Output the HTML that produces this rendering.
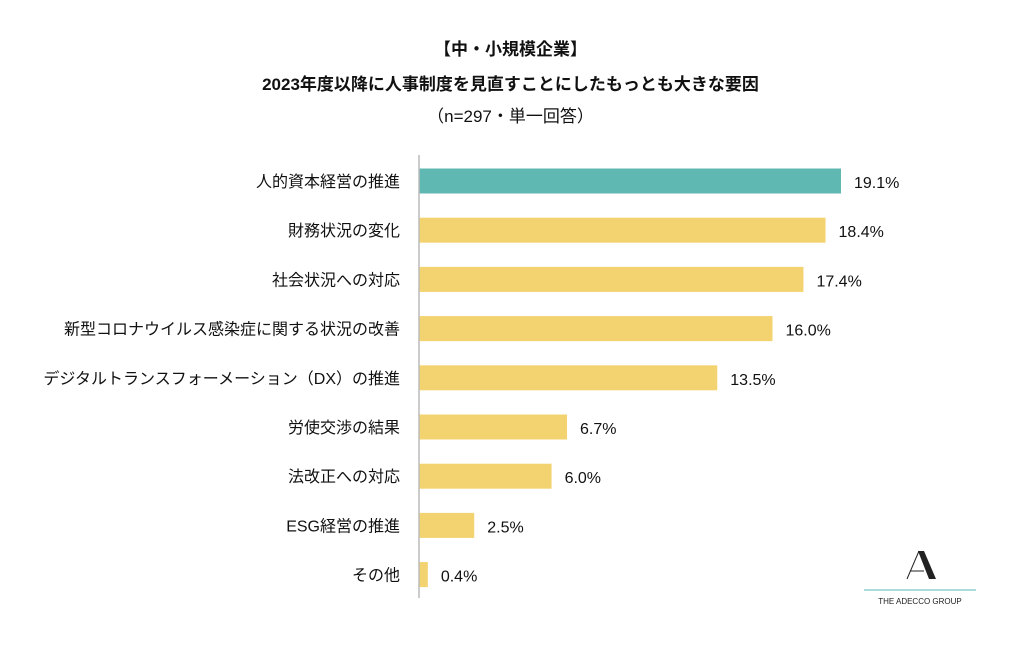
<!DOCTYPE html>
<html><head><meta charset="utf-8">
<style>
body{margin:0;background:#fff;font-family:"Liberation Sans","Noto Sans CJK JP",sans-serif;}
#wrap{position:relative;width:1021px;height:657px;overflow:hidden;}
.t{position:absolute;left:0;width:1021px;text-align:center;color:#111;}
</style></head><body>
<div id="wrap">
<div class="t" style="top:35px;font-size:17px;font-weight:bold">【中・小規模企業】</div>
<div class="t" style="top:70px;font-size:17px;font-weight:bold">2023年度以降に人事制度を見直すことにしたもっとも大きな要因</div>
<div class="t" style="top:102px;font-size:17px">（n=297・単一回答）</div>
<svg id="c" width="1021" height="657" style="position:absolute;left:0;top:0"></svg>
<svg width="140" height="70" style="position:absolute;left:850px;top:540px">
<line x1="69" y1="11" x2="57" y2="39" stroke="#222" stroke-width="1"/>
<polygon points="68,11 74,11 86,39 79,39" fill="#222"/>
<line x1="60" y1="31" x2="74" y2="31" stroke="#222" stroke-width="1"/>
<line x1="14" y1="50" x2="126" y2="50" stroke="#8fd0cf" stroke-width="1.5"/>
<text x="70" y="64" font-size="8" text-anchor="middle" fill="#222" font-family="Liberation Sans, sans-serif">THE ADECCO GROUP</text>
</svg>
</div>
<script>
const categories=["人的資本経営の推進","財務状況の変化","社会状況への対応","新型コロナウイルス感染症に関する状況の改善","デジタルトランスフォーメーション（DX）の推進","労使交渉の結果","法改正への対応","ESG経営の推進","その他"];
const values=[19.1,18.4,17.4,16.0,13.5,6.7,6.0,2.5,0.4];
const labels=["19.1%","18.4%","17.4%","16.0%","13.5%","6.7%","6.0%","2.5%","0.4%"];
const svg=document.getElementById('c');
const NS='http://www.w3.org/2000/svg';
const x0=419, scale=(841-419)/19.1;
const xs=v=>x0+v*scale;
const ys=i=>181+i*49.2;
const bh=25;
function mk(t,a){const e=document.createElementNS(NS,t);for(const k in a)e.setAttribute(k,a[k]);svg.appendChild(e);return e;}
values.forEach((v,i)=>{
  const r=mk('rect',{x:x0,y:ys(i)-bh/2,width:xs(v)-x0,height:bh,fill:i===0?'#5fb8b1':'#f3d36f'});
  
  
  const c=mk('text',{x:400,y:ys(i)+6,'text-anchor':'end','font-size':16,fill:'#111'});
  c.textContent=categories[i];
  
  
  const l=mk('text',{x:xs(v)+13,y:ys(i)+7,'font-size':16,fill:'#111'});
  l.textContent=labels[i];
  
  
});
const ax=mk('line',{x1:x0,y1:155,x2:x0,y2:598,stroke:'#bbb','stroke-width':1.5});


</script>
</body></html>
